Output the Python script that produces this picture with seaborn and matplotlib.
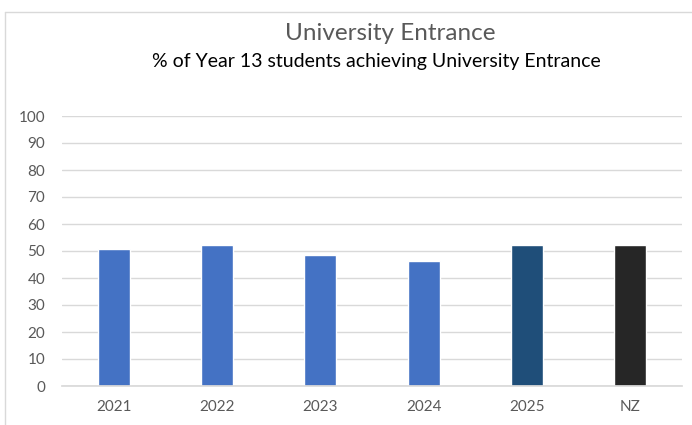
import matplotlib
matplotlib.use("Agg")
import matplotlib.pyplot as plt
import seaborn as sns
import pandas as pd
from matplotlib.lines import Line2D

# data
categories = ["2021", "2022", "2023", "2024", "2025", "NZ"]
ue_percent = [50.6, 52.1, 48.5, 46.3, 52.1, 52.1]
bar_colors = ["#4472C4", "#4472C4", "#4472C4", "#4472C4", "#1F4E79", "#262626"]
y_ticks = list(range(0, 101, 10))

sns.set_theme(style="white")
plt.rcParams["font.family"] = ["Lato", "DejaVu Sans"]

df = pd.DataFrame({"year": categories, "pct": ue_percent})

fig = plt.figure(figsize=(6.92, 4.25), dpi=100)
ax = fig.add_axes([62 / 692, 1 - 386 / 425, 620 / 692, 270 / 425])

sns.barplot(data=df, x="year", y="pct", hue="year", palette=bar_colors,
            width=0.31, legend=False, ax=ax, saturation=1)

ax.set_ylim(0, 100)
ax.set_yticks(y_ticks)
ax.set_xlabel("")
ax.set_ylabel("")
ax.grid(axis="y", color="#D9D9D9", linewidth=1)
ax.set_axisbelow(True)
for s in ["top", "right", "left"]:
    ax.spines[s].set_visible(False)
ax.spines["bottom"].set_color("#D9D9D9")
ax.tick_params(axis="y", length=0, pad=12, labelsize=11, labelcolor="#595959")
ax.tick_params(axis="x", length=0, pad=10, labelsize=11, labelcolor="#595959")

# titles
fig.text(390 / 692, 1 - 33 / 425, "University Entrance", ha="center", va="center",
         fontsize=17.5, color="#595959")
fig.text(376 / 692, 1 - 62 / 425, "% of Year 13 students achieving University Entrance",
         ha="center", va="center", fontsize=14, color="#000000")

# chart area border (left and top edges visible)
fig.add_artist(Line2D([5 / 692, 5 / 692], [0, 1 - 12 / 425], transform=fig.transFigure,
                      color="#D9D9D9", linewidth=1))
fig.add_artist(Line2D([5 / 692, 1], [1 - 12 / 425, 1 - 12 / 425], transform=fig.transFigure,
                      color="#D9D9D9", linewidth=1))

fig.savefig("out.png", dpi=100)
